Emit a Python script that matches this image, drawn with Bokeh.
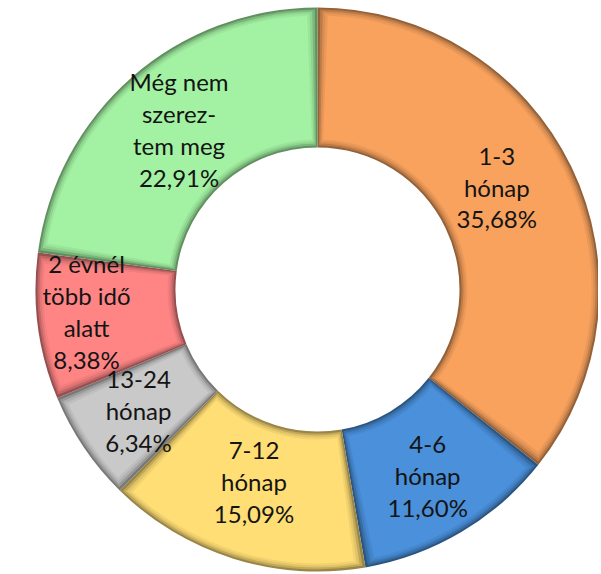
import math
from bokeh.plotting import figure
from bokeh.models import Range1d, ColumnDataSource
from bokeh.core.properties import value
from bokeh.embed import file_html
from bokeh.resources import INLINE

# ---- data ----
categories = ["1-3\nhónap", "4-6\nhónap", "7-12\nhónap", "13-24\nhónap",
              "2 évnél\ntöbb idő\nalatt", "Még nem\nszerez-\ntem meg"]
shares = [35.68, 11.60, 15.09, 6.34, 8.38, 22.91]
colors = ["#F8A25E", "#4A90DA", "#FFDE75", "#C9C9C9", "#FF8585", "#A3F2A3"]

# ---- style ----
R_OUT = 282
R_IN = 142
R_MID = (R_OUT + R_IN) / 2
label_radius_extra = [-4, 4, -6, 4, 24, -2]
label_dx = [-8, 0, -2, 0, 3, 0]
label_dy = [12, 0, 5, 0, 9, 2]


def shade(hex_color, f):
    h = hex_color.lstrip("#")
    r, g, b = (int(h[i:i + 2], 16) for i in (0, 2, 4))
    return "#%02x%02x%02x" % (int(r * f), int(g * f), int(b * f))


total = sum(shares)
starts, ends, mids = [], [], []
cum = 0.0
for s in shares:
    a0 = math.pi / 2 - 2 * math.pi * cum / total
    cum += s
    a1 = math.pi / 2 - 2 * math.pi * cum / total
    starts.append(a0)
    ends.append(a1)
    mids.append((a0 + a1) / 2)

labels = [c + "\n" + ("%.2f" % v).replace(".", ",") + "%" for c, v in zip(categories, shares)]
lx = [(R_MID + e) * math.cos(m) + dx for m, e, dx in zip(mids, label_radius_extra, label_dx)]
ly = [(R_MID + e) * math.sin(m) + dy for m, e, dy in zip(mids, label_radius_extra, label_dy)]

W, H = 598, 572
OFF = 0
CXP, CYP = 317, 289  # page position of centre
p = figure(width=W, height=H, output_backend="svg", toolbar_location=None,
           x_range=Range1d(OFF - CXP, OFF + W - CXP), y_range=Range1d(CYP - OFF - H, CYP - OFF),
           min_border=0, outline_line_color=None)
p.axis.visible = False
p.grid.visible = False
p.background_fill_color = "white"
p.border_fill_color = "white"

layers = [(0, 0.6), (2, 0.76), (4, 0.88), (6, 0.95), (8, 1.0)]
for inset, f in layers:
    da = inset / R_MID
    src = ColumnDataSource(dict(
        s=[a - da for a in starts], e=[a + da for a in ends],
        c=[shade(c, f) for c in colors]))
    p.annular_wedge(x=0, y=0, inner_radius=R_IN + inset, outer_radius=R_OUT - inset,
                    start_angle="s", end_angle="e", direction="clock",
                    fill_color="c", line_color=None, source=src)

tsrc = ColumnDataSource(dict(x=lx, y=ly, t=labels))
p.text(x="x", y="y", text="t", source=tsrc, text_align="center", text_baseline="middle",
       text_font=value("Lato"), text_font_size="24px", text_color="#141414",
       text_line_height=1.1)

open("out.html", "w").write(file_html(p, INLINE))
